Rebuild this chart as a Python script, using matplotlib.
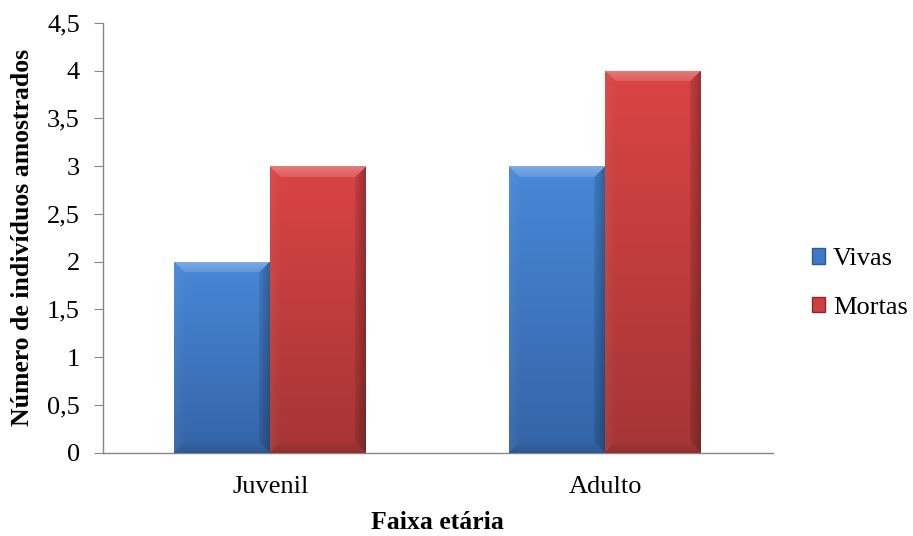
import numpy as np
import matplotlib
matplotlib.use("Agg")
import matplotlib.pyplot as plt
from matplotlib.patches import Patch
from matplotlib.colors import to_rgb

categories = ["Juvenil", "Adulto"]
series_names = ["Vivas", "Mortas"]
vivas = [2, 3]
mortas = [3, 4]
yticks = [0, 0.5, 1, 1.5, 2, 2.5, 3, 3.5, 4, 4.5]
ytick_labels = ["0", "0,5", "1", "1,5", "2", "2,5", "3", "3,5", "4", "4,5"]

plt.rcParams['font.family'] = ['Liberation Serif', 'DejaVu Serif']

fig = plt.figure(figsize=(9.13, 5.36), dpi=100)
ax = fig.add_axes([0.1125, 0.1554, 0.7338, 0.8022])

top_cols = {"Vivas": "#4888D8", "Mortas": "#DA4444"}
bot_cols = {"Vivas": "#3464A6", "Mortas": "#A53535"}

x = np.arange(len(categories))
w = 2 / 7.0
ax.set_xlim(-0.5, len(categories) - 0.5)
ax.set_ylim(0, 4.5)

def bevel_image(Hpx, Wpx, ctop, cbot, b=11):
    ctop = np.array(to_rgb(ctop)); cbot = np.array(to_rgb(cbot))
    ii, jj = np.mgrid[0:Hpx, 0:Wpx]
    t = (ii / max(Hpx - 1, 1))[..., None]
    base = ctop * (1 - t) + cbot * t
    dt = ii; db = Hpx - 1 - ii; dl = jj; dr = Wpx - 1 - jj
    d = np.stack([dt, db, dl, dr], axis=-1)
    which = np.argmin(d, axis=-1)
    mind = np.min(d, axis=-1)
    img = base.copy()
    inb = mind < b
    f = (1 - mind / b)[..., None]
    white = np.ones(3)
    top = inb & (which == 0)
    mix = 0.12 + 0.18 * f
    img = np.where(top[..., None], img * (1 - mix) + white * mix, img)
    bot = inb & (which == 1)
    img = np.where(bot[..., None], img * (1 - 0.12 * f), img)
    left = inb & (which == 2)
    mixl = 0.05 * f
    img = np.where(left[..., None], img * (1 - mixl) + white * mixl, img)
    right = inb & (which == 3)
    img = np.where(right[..., None], img * (1 - 0.08 - 0.2 * f), img)
    return np.clip(img, 0, 1)

for k, (name, vals) in enumerate(zip(series_names, [vivas, mortas])):
    pos = x + (k - 0.5) * w
    bars = ax.bar(pos, vals, width=w, color=top_cols[name], edgecolor='none', zorder=2)
    for bar in bars:
        x0, y0 = bar.get_x(), bar.get_y()
        bw, bh = bar.get_width(), bar.get_height()
        p0 = ax.transData.transform((x0, y0))
        p1 = ax.transData.transform((x0 + bw, y0 + bh))
        Wpx = max(int(round(p1[0] - p0[0])), 2)
        Hpx = max(int(round(p1[1] - p0[1])), 2)
        img = bevel_image(Hpx, Wpx, top_cols[name], bot_cols[name])
        im = ax.imshow(img, extent=[x0, x0 + bw, y0, y0 + bh], aspect='auto',
                       interpolation='bilinear', zorder=3)
        im.set_clip_path(bar)

ax.set_xlim(-0.5, len(categories) - 0.5)
ax.set_ylim(0, 4.5)

for s in ['top', 'right']:
    ax.spines[s].set_visible(False)
for s in ['left', 'bottom']:
    ax.spines[s].set_color('#868686')
    ax.spines[s].set_linewidth(1.0)

ax.set_yticks(yticks)
ax.set_yticklabels(ytick_labels)
ax.set_xticks(x)
ax.set_xticklabels(categories)
ax.tick_params(axis='y', direction='out', length=6.5, color='#868686', labelsize=19, pad=10)
ax.tick_params(axis='x', length=0, labelsize=19, pad=17)

ax.set_ylabel("Número de indivíduos amostrados", fontsize=18.5, fontweight='bold', labelpad=9)
ax.set_xlabel("Faixa etária", fontsize=18.5, fontweight='bold', labelpad=9)

handles = [Patch(facecolor="#3F78C4", edgecolor="#2C5A96", linewidth=1),
           Patch(facecolor="#CC4040", edgecolor="#8E2828", linewidth=1)]
fig.legend(handles, series_names, loc='center left', bbox_to_anchor=(0.889, 0.471),
           frameon=False, prop={'family': ['Liberation Serif', 'DejaVu Serif'], 'size': 19},
           handlelength=0.5, handleheight=0.5,
           handletextpad=0.3, labelspacing=1.0, borderpad=0, borderaxespad=0)

fig.savefig("out.png", dpi=100)
